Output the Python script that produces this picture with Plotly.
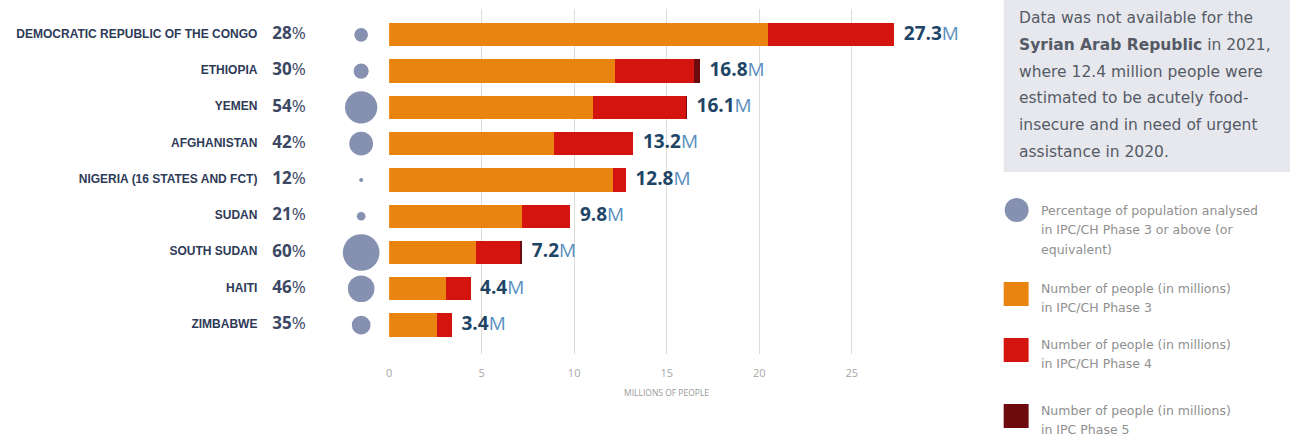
import plotly.graph_objects as go

# ---- data ----
countries = ["DEMOCRATIC REPUBLIC OF THE CONGO", "ETHIOPIA", "YEMEN", "AFGHANISTAN",
             "NIGERIA (16 STATES AND FCT)", "SUDAN", "SOUTH SUDAN", "HAITI", "ZIMBABWE"]
pct = [28, 30, 54, 42, 12, 21, 60, 46, 35]
phase3 = [20.5, 12.2, 11.0, 8.9, 12.1, 7.2, 4.7, 3.1, 2.6]
phase4 = [6.8, 4.3, 5.05, 4.3, 0.7, 2.6, 2.4, 1.3, 0.8]
phase5 = [0.0, 0.3, 0.05, 0.0, 0.0, 0.0, 0.1, 0.0, 0.0]
totals = [27.3, 16.8, 16.1, 13.2, 12.8, 9.8, 7.2, 4.4, 3.4]
x_ticks = [0, 5, 10, 15, 20, 25]

box_lines = ["Data was not available for the",
             "<b>Syrian Arab Republic</b> in 2021,",
             "where 12.4 million people were",
             "estimated to be acutely food-",
             "insecure and in need of urgent",
             "assistance in 2020."]
legend_items = [
    ("circle", "#8691b1", ["Percentage of population analysed",
                           "in IPC/CH Phase 3 or above (or", "equivalent)"]),
    ("rect", "#ea8410", ["Number of people (in millions)", "in IPC/CH Phase 3"]),
    ("rect", "#d3140f", ["Number of people (in millions)", "in IPC/CH Phase 4"]),
    ("rect", "#6e0b0e", ["Number of people (in millions)", "in IPC Phase 5"]),
]

W, H = 1292, 443
T, B = 9, 89
PLOT_TOP, PLOT_BOT = T, H - B
X0_PX = 387
PX_PER_UNIT = 18.55
X_MAX = 28.0
X1_PX = X0_PX + X_MAX * PX_PER_UNIT

def px2x(px):
    return px / W

def px2y(py):
    return (PLOT_BOT - py) / (PLOT_BOT - PLOT_TOP)

C_ORANGE, C_RED, C_DARK = "#ea8410", "#d3140f", "#6e0b0e"
C_CIRCLE = "#8691b1"

fig = go.Figure()
for name, vals, col in [("Phase 3", phase3, C_ORANGE), ("Phase 4", phase4, C_RED),
                        ("Phase 5", phase5, C_DARK)]:
    fig.add_trace(go.Bar(y=countries, x=vals, orientation="h", name=name,
                         marker=dict(color=col, line=dict(width=0)),
                         showlegend=False, hoverinfo="skip"))

# total labels
fig.add_trace(go.Scatter(
    y=countries, x=totals, mode="text",
    text=["\u2002<b>%s</b><span style='color:#5a8fbf'>M</span>" % t for t in totals],
    textposition="middle right",
    textfont=dict(family="Open Sans", size=19, color="#1e4566"),
    cliponaxis=False, showlegend=False, hoverinfo="skip"))

# left side: circles, percentages, country names on helper axis (pixel units)
sizes = [max(4, (p - 9) * 0.72) for p in pct]
fig.add_trace(go.Scatter(
    y=countries, x=[359] * len(countries), mode="markers", xaxis="x2",
    marker=dict(size=sizes, color=C_CIRCLE, opacity=1, line=dict(width=0)),
    showlegend=False, hoverinfo="skip"))
fig.add_trace(go.Scatter(
    y=countries, x=[270] * len(countries), mode="text", xaxis="x2",
    text=["<b>%d</b>%%" % p for p in pct], textposition="middle right",
    textfont=dict(family="Open Sans", size=17, color="#3b4763"),
    showlegend=False, hoverinfo="skip"))
fig.add_trace(go.Scatter(
    y=countries, x=[255] * len(countries), mode="text", xaxis="x2",
    text=["<b>%s</b>" % c for c in countries], textposition="middle left",
    textfont=dict(family="Liberation Sans", size=12, color="#2e3a58"),
    showlegend=False, hoverinfo="skip"))

shapes = []
annotations = []

# info box
shapes.append(dict(type="rect", xref="paper", yref="paper",
                   x0=px2x(1003), x1=px2x(1290), y0=px2y(172), y1=px2y(0),
                   fillcolor="#e7e8ed", line=dict(width=0), layer="below"))
for i, line in enumerate(box_lines):
    annotations.append(dict(xref="paper", yref="paper", x=px2x(1016), y=px2y(18 + i * 26.8),
                            text=line, showarrow=False, xanchor="left", yanchor="middle",
                            font=dict(family="DejaVu Sans", size=15.5, color="#555b66")))

# legend
leg_centers = [210, 294, 350, 416]
for (kind, col, lines), cy in zip(legend_items, leg_centers):
    if kind == "circle":
        shapes.append(dict(type="circle", xref="paper", yref="paper",
                           x0=px2x(1004), x1=px2x(1028), y0=px2y(cy + 12), y1=px2y(cy - 12),
                           fillcolor=col, line=dict(width=0)))
        ty0 = cy
    else:
        shapes.append(dict(type="rect", xref="paper", yref="paper",
                           x0=px2x(1003), x1=px2x(1028), y0=px2y(cy + 12), y1=px2y(cy - 12),
                           fillcolor=col, line=dict(width=0)))
        ty0 = cy - 6
    for j, line in enumerate(lines):
        annotations.append(dict(xref="paper", yref="paper", x=px2x(1038), y=px2y(ty0 + j * 19.5),
                                text=line, showarrow=False, xanchor="left", yanchor="middle",
                                font=dict(family="DejaVu Sans", size=12.5, color="#8f8f8f")))

# x-axis title
annotations.append(dict(xref="x", yref="paper", x=15, y=px2y(392), text="MILLIONS OF PEOPLE",
                        showarrow=False, xanchor="center", yanchor="middle",
                        font=dict(family="Open Sans", size=8.5, color="#9a9a9a")))

fig.update_layout(
    width=W, height=H,
    margin=dict(l=0, r=0, t=T, b=B),
    paper_bgcolor="white", plot_bgcolor="white",
    barmode="stack", bargap=0.36,
    showlegend=False,
    xaxis=dict(domain=[px2x(X0_PX), px2x(X1_PX)], range=[0, X_MAX],
               tickvals=x_ticks, showgrid=True, gridcolor="#dcdcdc", gridwidth=1,
               zeroline=False, showline=False, ticks="",
               ticklabelstandoff=11,
               tickfont=dict(family="Open Sans", size=11, color="#a8a8a8")),
    xaxis2=dict(domain=[0, px2x(X0_PX)], range=[0, X0_PX], anchor="y",
                visible=False, showgrid=False, zeroline=False),
    yaxis=dict(categoryorder="array", categoryarray=countries, autorange="reversed",
               showticklabels=False, showgrid=False, zeroline=False, showline=False,
               ticks=""),
    shapes=shapes, annotations=annotations,
)

fig.write_html("out.html")
